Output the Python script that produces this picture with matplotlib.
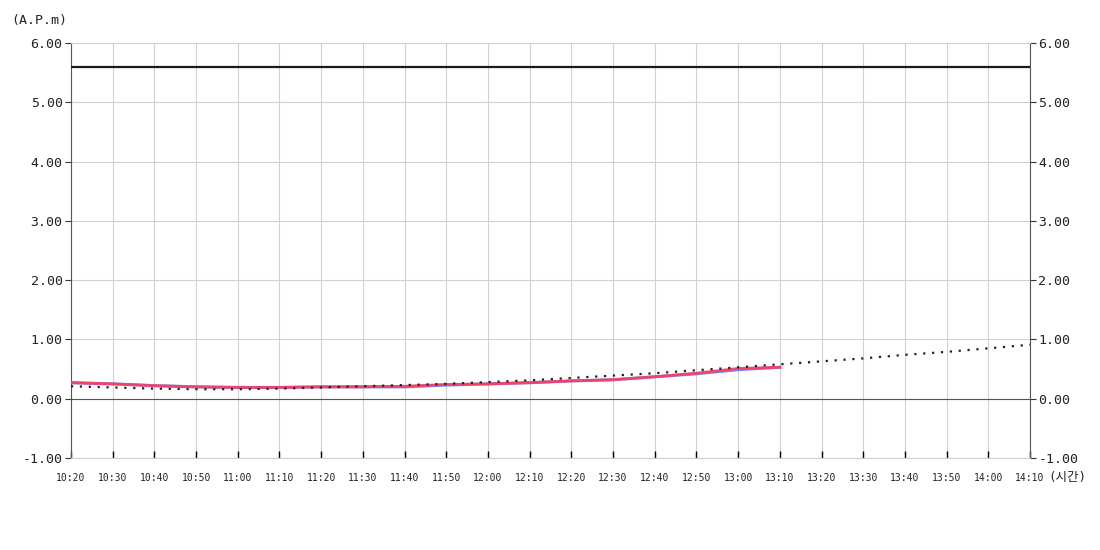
import numpy as np
import matplotlib
matplotlib.use("Agg")
import matplotlib.pyplot as plt

plt.rcParams['font.family'] = ['DejaVu Sans Mono', 'Noto Sans CJK KR']

# time axis, every 10 minutes
times = ["10:20", "10:30", "10:40", "10:50", "11:00", "11:10", "11:20", "11:30",
         "11:40", "11:50", "12:00", "12:10", "12:20", "12:30", "12:40", "12:50",
         "13:00", "13:10", "13:20", "13:30", "13:40", "13:50", "14:00", "14:10"]

# measured series (up to 13:10)
red_vals = [0.27, 0.25, 0.22, 0.20, 0.19, 0.19, 0.20, 0.20, 0.21, 0.24,
            0.25, 0.27, 0.30, 0.32, 0.37, 0.43, 0.51, 0.53]
blue_vals = [0.27, 0.25, 0.22, 0.20, 0.19, 0.19, 0.20, 0.20, 0.20, 0.23,
             0.25, 0.27, 0.30, 0.32, 0.37, 0.42, 0.49, 0.53]
# forecast (dotted)
pred_vals = [0.21, 0.19, 0.17, 0.16, 0.16, 0.17, 0.19, 0.21, 0.23, 0.25,
             0.28, 0.31, 0.35, 0.39, 0.43, 0.48, 0.53, 0.58, 0.63, 0.68,
             0.74, 0.79, 0.85, 0.91]
limit_val = 5.6

x_all = np.arange(len(times))

fig = plt.figure(figsize=(11, 5.5), dpi=100)
ax = fig.add_axes([0.0645, 0.1673, 0.8719, 0.7545])

ax.set_xlim(0, len(times) - 1)
ax.set_ylim(-1, 6)
ax.set_xticks(x_all)
ax.set_xticklabels(times, fontsize=7, color='#222222')
yt = np.arange(-1, 7, 1)
ax.set_yticks(yt)
ax.set_yticklabels(["%.2f" % v for v in yt], fontsize=9.5, color='#222222')

ax.grid(True, color='#d0d0d0', linewidth=0.8)
ax.set_axisbelow(True)
for s in ['top', 'bottom']:
    ax.spines[s].set_color('#d0d0d0')
    ax.spines[s].set_linewidth(0.8)
for s in ['left', 'right']:
    ax.spines[s].set_color('#555555')
    ax.spines[s].set_linewidth(0.8)

ax.tick_params(axis='x', direction='in', length=5, width=1, color='black', pad=11)
ax.tick_params(axis='y', direction='out', length=4, width=0.8, color='#333333', pad=2,
               left=True, right=True, labelleft=True, labelright=True)

ax.axhline(0, color='#555555', linewidth=0.8, zorder=2)
ax.axhline(limit_val, color='#1a1a1a', linewidth=1.6, zorder=3)

n = len(red_vals)
ax.plot(x_all[:n], blue_vals, color='#4a6cf7', linewidth=2.2, alpha=0.8, zorder=4)
ax.plot(x_all[:n], red_vals, color='#ff3b5c', linewidth=2.0, alpha=0.9, zorder=5)
ax.plot(x_all, pred_vals, color='#222222', linewidth=1.6, linestyle=(0, (1, 3)), zorder=6)

fig.text(0.010, 0.963, "(A.P.m)", fontsize=9.5, ha='left', va='center', color='#222222')
fig.text(0.953, 0.131, "(시간)", fontsize=9, ha='left', va='center', color='#222222')

fig.savefig("out.png", dpi=100)
